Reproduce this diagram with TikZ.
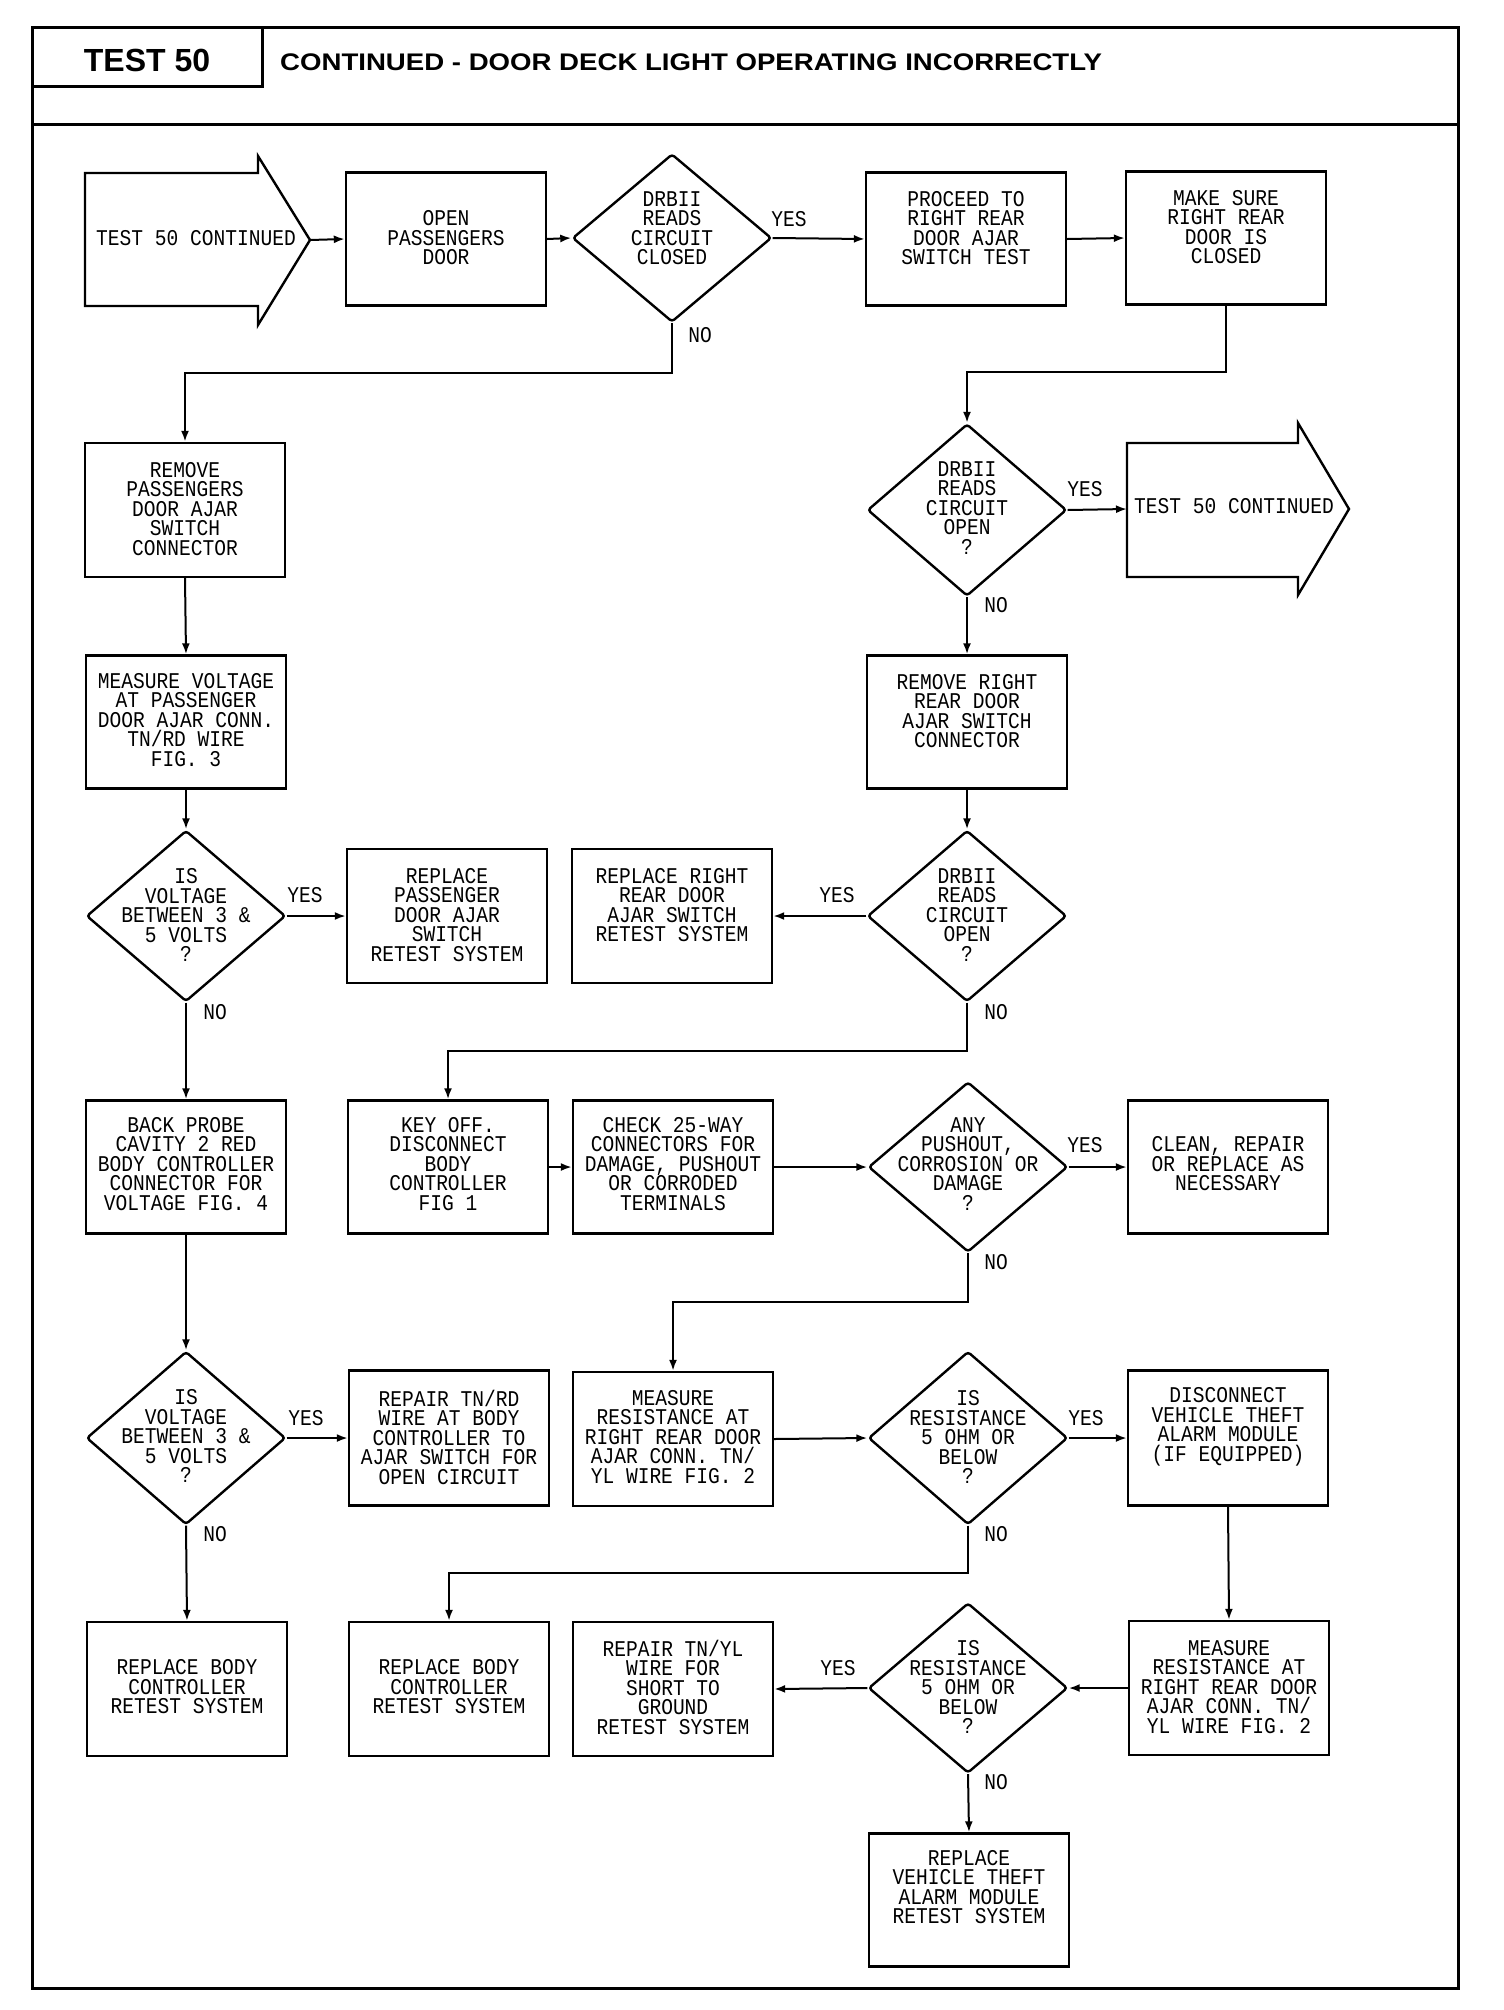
\documentclass[tikz,border=0pt]{standalone}
\usepackage{fontspec}
\newfontfamily\plotfont[FakeStretch=0.87]{Liberation Mono}
\newfontfamily\headfont{Liberation Sans}
\newfontfamily\subfont[FakeStretch=1.15]{Liberation Sans}
\usetikzlibrary{arrows.meta,shapes.geometric}
\begin{document}
\lineskiplimit=-100pt\relax
\begin{tikzpicture}[x=1pt,y=-1pt,
  box/.style={draw,line width=2.4pt,minimum width=200pt,minimum height=133pt,inner sep=0pt},
  dia/.style={draw,diamond,line width=2.4pt,minimum width=199pt,inner sep=0pt,rounded corners=3pt},
  txt/.style={font=\plotfont\fontsize{22.5}{19.5}\selectfont,align=center,inner sep=0pt},
  lbl/.style={font=\plotfont\fontsize{22.5}{19.5}\selectfont,inner sep=0pt},
  conn/.style={line width=2pt,-{Latex[length=11pt,width=8pt]}},
  frame/.style={line width=3pt}]
\useasboundingbox (0,0) rectangle (1504,2010);
% frame and header
\draw[frame] (32,28) rectangle (1458,1988);
\draw[frame] (32,86) -- (262,86) -- (262,28);
\draw[frame] (32,124) -- (1458,124);
\node[font=\headfont\bfseries\fontsize{32}{32}\selectfont,inner sep=0pt] (ttl) at (147,60) {TEST 50};
\node[font=\subfont\bfseries\fontsize{24}{24}\selectfont,inner sep=0pt,anchor=west] (sub) at (280,62) {CONTINUED - DOOR DECK LIGHT OPERATING INCORRECTLY};
% coordinates for elbows
\coordinate (y1) at (0,372);
\coordinate (y2) at (0,373);
\coordinate (y3) at (0,1051);
\coordinate (y4) at (0,1302);
\coordinate (y5) at (0,1573);
% arrow shapes
\draw[line width=2.4pt,line join=miter] (85,173) -- (258,173) -- (258,156) -- (310,240) -- (258,325) -- (258,306) -- (85,306) -- cycle;
\coordinate (a1tip) at (310,240);
\node[txt] (ta1) at (196,238) {TEST 50 CONTINUED};
\draw[line width=2.4pt,line join=miter] (1127,443) -- (1298,443) -- (1298,423) -- (1349,509) -- (1298,595) -- (1298,577) -- (1127,577) -- cycle;
\coordinate (a2in) at (1127,509);
\node[txt] (ta2) at (1234,506) {TEST 50 CONTINUED};
% boxes
\node[box] (bopen) at (446,239) {};
\node[txt] (topen) at (446,238) {OPEN\\PASSENGERS\\DOOR};
\node[box] (bproc) at (966,239) {};
\node[txt] (tproc) at (966,228) {PROCEED TO\\RIGHT REAR\\DOOR AJAR\\SWITCH TEST};
\node[box] (bmake) at (1226,238) {};
\node[txt] (tmake) at (1226,227) {MAKE SURE\\RIGHT REAR\\DOOR IS\\CLOSED};
\node[box,minimum height=134pt] (brempass) at (185,510) {};
\node[txt] (trempass) at (185,509) {REMOVE\\PASSENGERS\\DOOR AJAR\\SWITCH\\CONNECTOR};
\node[box] (bmeasv) at (186,722) {};
\node[txt] (tmeasv) at (186,720) {MEASURE VOLTAGE\\AT PASSENGER\\DOOR AJAR CONN.\\TN/RD WIRE\\FIG. 3};
\node[box,minimum height=134pt] (breppass) at (447,916) {};
\node[txt] (treppass) at (447,915) {REPLACE\\PASSENGER\\DOOR AJAR\\SWITCH\\RETEST SYSTEM};
\node[box,minimum height=134pt] (breprr) at (672,916) {};
\node[txt] (treprr) at (672,905) {REPLACE RIGHT\\REAR DOOR\\AJAR SWITCH\\RETEST SYSTEM};
\node[box] (bremrr) at (967,722) {};
\node[txt] (tremrr) at (967,711) {REMOVE RIGHT\\REAR DOOR\\AJAR SWITCH\\CONNECTOR};
\node[box] (bback) at (186,1167) {};
\node[txt] (tback) at (186,1164) {BACK PROBE\\CAVITY 2 RED\\BODY CONTROLLER\\CONNECTOR FOR\\VOLTAGE FIG. 4};
\node[box] (bkey) at (448,1167) {};
\node[txt] (tkey) at (448,1164) {KEY OFF.\\DISCONNECT\\BODY\\CONTROLLER\\FIG 1};
\node[box] (bcheck) at (673,1167) {};
\node[txt] (tcheck) at (673,1164) {CHECK 25-WAY\\CONNECTORS FOR\\DAMAGE, PUSHOUT\\OR CORRODED\\TERMINALS};
\node[box] (bclean) at (1228,1167) {};
\node[txt] (tclean) at (1228,1164) {CLEAN, REPAIR\\OR REPLACE AS\\NECESSARY};
\node[box,minimum height=135pt] (breptnrd) at (449,1438) {};
\node[txt] (treptnrd) at (449,1437) {REPAIR TN/RD\\WIRE AT BODY\\CONTROLLER TO\\AJAR SWITCH FOR\\OPEN CIRCUIT};
\node[box,minimum height=134pt] (bmeasr) at (673,1439) {};
\node[txt] (tmeasr) at (673,1437) {MEASURE\\RESISTANCE AT\\RIGHT REAR DOOR\\AJAR CONN. TN/\\YL WIRE FIG. 2};
\node[box,minimum height=135pt] (bdisc) at (1228,1438) {};
\node[txt] (tdisc) at (1228,1427) {DISCONNECT\\VEHICLE THEFT\\ALARM MODULE\\(IF EQUIPPED)};
\node[box,minimum height=134pt] (brepbody1) at (187,1689) {};
\node[txt] (trepbody1) at (187,1687) {REPLACE BODY\\CONTROLLER\\RETEST SYSTEM};
\node[box,minimum height=134pt] (brepbody2) at (449,1689) {};
\node[txt] (trepbody2) at (449,1687) {REPLACE BODY\\CONTROLLER\\RETEST SYSTEM};
\node[box,minimum height=134pt] (breptnyl) at (673,1689) {};
\node[txt] (treptnyl) at (673,1687) {REPAIR TN/YL\\WIRE FOR\\SHORT TO\\GROUND\\RETEST SYSTEM};
\node[box,minimum height=134pt] (bmr2) at (1229,1688) {};
\node[txt] (tmr2) at (1229,1687) {MEASURE\\RESISTANCE AT\\RIGHT REAR DOOR\\AJAR CONN. TN/\\YL WIRE FIG. 2};
\node[box] (brepvta) at (969,1900) {};
\node[txt] (trepvta) at (969,1887) {REPLACE\\VEHICLE THEFT\\ALARM MODULE\\RETEST SYSTEM};
% diamonds
\node[dia,minimum height=168pt] (d1) at (672,238) {};
\node[txt] (td1) at (672,228) {DRBII\\READS\\CIRCUIT\\CLOSED};
\node[dia,minimum height=172pt] (d2) at (967,510) {};
\node[txt] (td2) at (967,508) {DRBII\\READS\\CIRCUIT\\OPEN\\?};
\node[dia,minimum height=171pt] (d3) at (186,916) {};
\node[txt] (td3) at (186,915) {IS\\VOLTAGE\\BETWEEN 3 \&\\5 VOLTS\\?};
\node[dia,minimum height=171pt] (d4) at (967,916) {};
\node[txt] (td4) at (967,915) {DRBII\\READS\\CIRCUIT\\OPEN\\?};
\node[dia,minimum height=170pt] (d5) at (968,1167) {};
\node[txt] (td5) at (968,1164) {ANY\\PUSHOUT,\\CORROSION OR\\DAMAGE\\?};
\node[dia,minimum height=173pt] (d6) at (186,1438) {};
\node[txt] (td6) at (186,1436) {IS\\VOLTAGE\\BETWEEN 3 \&\\5 VOLTS\\?};
\node[dia,minimum height=173pt] (d7) at (968,1438) {};
\node[txt] (td7) at (968,1437) {IS\\RESISTANCE\\5 OHM OR\\BELOW\\?};
\node[dia,minimum height=170pt] (d8) at (968,1688) {};
\node[txt] (td8) at (968,1687) {IS\\RESISTANCE\\5 OHM OR\\BELOW\\?};
% labels
\node[lbl] (l1y) at (789,219) {YES};
\node[lbl] (l1n) at (700,335) {NO};
\node[lbl] (l2y) at (1085,489) {YES};
\node[lbl] (l2n) at (996,605) {NO};
\node[lbl] (l3y) at (305,895) {YES};
\node[lbl] (l3n) at (215,1012) {NO};
\node[lbl] (l4y) at (837,895) {YES};
\node[lbl] (l4n) at (996,1012) {NO};
\node[lbl] (l5y) at (1085,1145) {YES};
\node[lbl] (l5n) at (996,1262) {NO};
\node[lbl] (l6y) at (306,1418) {YES};
\node[lbl] (l6n) at (215,1534) {NO};
\node[lbl] (l7y) at (1086,1418) {YES};
\node[lbl] (l7n) at (996,1534) {NO};
\node[lbl] (l8y) at (838,1668) {YES};
\node[lbl] (l8n) at (996,1782) {NO};
% connectors
\draw[conn] (a1tip) -- (bopen.west);
\draw[conn] (bopen.east) -- (d1.west);
\draw[conn] (d1.east) -- (bproc.west);
\draw[conn] (bproc.east) -- (bmake.west);
\draw[conn] (bmake.south) |- (d2.north |- y1) -- (d2.north);
\draw[conn] (d2.east) -- (a2in);
\draw[conn] (d2.south) -- (bremrr.north);
\draw[conn] (bremrr.south) -- (d4.north);
\draw[conn] (d4.west) -- (breprr.east);
\draw[conn] (d4.south) |- (bkey.north |- y3) -- (bkey.north);
\draw[conn] (d1.south) |- (brempass.north |- y2) -- (brempass.north);
\draw[conn] (brempass.south) -- (bmeasv.north);
\draw[conn] (bmeasv.south) -- (d3.north);
\draw[conn] (d3.east) -- (breppass.west);
\draw[conn] (d3.south) -- (bback.north);
\draw[conn] (bkey.east) -- (bcheck.west);
\draw[conn] (bcheck.east) -- (d5.west);
\draw[conn] (d5.east) -- (bclean.west);
\draw[conn] (d5.south) |- (bmeasr.north |- y4) -- (bmeasr.north);
\draw[conn] (bback.south) -- (d6.north);
\draw[conn] (d6.east) -- (breptnrd.west);
\draw[conn] (bmeasr.east) -- (d7.west);
\draw[conn] (d7.east) -- (bdisc.west);
\draw[conn] (d7.south) |- (brepbody2.north |- y5) -- (brepbody2.north);
\draw[conn] (d6.south) -- (brepbody1.north);
\draw[conn] (bdisc.south) -- (bmr2.north);
\draw[conn] (bmr2.west) -- (d8.east);
\draw[conn] (d8.west) -- (breptnyl.east);
\draw[conn] (d8.south) -- (brepvta.north);
\end{tikzpicture}
\end{document}
